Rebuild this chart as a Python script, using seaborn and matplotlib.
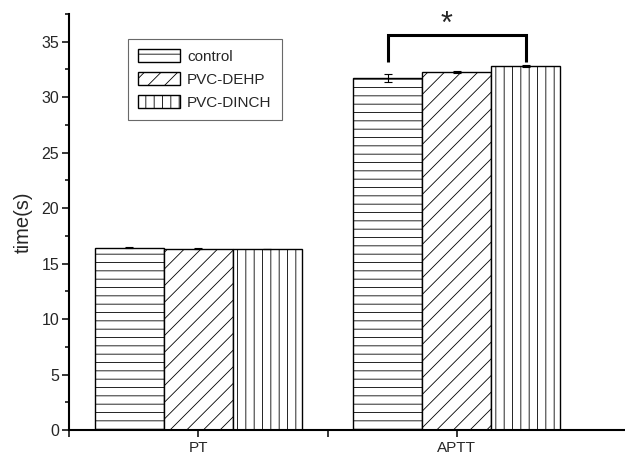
import matplotlib
matplotlib.use("Agg")
import matplotlib.pyplot as plt
import seaborn as sns
import pandas as pd
import numpy as np
from matplotlib.ticker import MultipleLocator
from matplotlib.container import BarContainer

tests = ["PT", "APTT"]
groups = ["control", "PVC-DEHP", "PVC-DINCH"]
pt_means = [16.45, 16.35, 16.33]
aptt_means = [31.70, 32.30, 32.78]
pt_err = [0.08, 0.06, 0.02]
aptt_err = [0.35, 0.08, 0.08]
hatches = ["--", "//", "||"]

sns.set_theme(style="white")
plt.rcParams["font.family"] = ["Liberation Sans", "DejaVu Sans"]
plt.rcParams["hatch.linewidth"] = 0.6
plt.rcParams["hatch.color"] = "#222222"

rows = []
for g, m in zip(groups, pt_means):
    rows.append({"test": "PT", "group": g, "time": m})
for g, m in zip(groups, aptt_means):
    rows.append({"test": "APTT", "group": g, "time": m})
df = pd.DataFrame(rows)

fig = plt.figure(figsize=(6.25, 4.59), dpi=100)
ax = fig.add_axes([0.1104, 0.0632, 0.8896, 0.9063])

sns.barplot(data=df, x="test", y="time", hue="group", order=tests,
            hue_order=groups, palette=["white"] * 3, edgecolor="black",
            linewidth=1.0, errorbar=None, ax=ax, legend=False)

bars = [c for c in ax.containers if isinstance(c, BarContainer)]
errs = {"PT": pt_err, "APTT": aptt_err}
means = {"PT": pt_means, "APTT": aptt_means}
for gi, cont in enumerate(bars):
    for ti, patch in enumerate(cont.patches):
        patch.set_hatch(hatches[gi])
        xc = patch.get_x() + patch.get_width() / 2
        t = tests[ti]
        ax.errorbar(xc, means[t][gi], yerr=errs[t][gi], fmt="none",
                    ecolor="black", elinewidth=0.8, capsize=2.6, capthick=0.8)

handles = [c.patches[0] for c in bars]
leg = ax.legend(handles, groups, loc="upper left",
                bbox_to_anchor=(0.106, 0.94), fontsize=11,
                handlelength=2.75, handleheight=0.9, labelspacing=0.55,
                handletextpad=0.45, borderpad=0.68, borderaxespad=0,
                fancybox=False, frameon=True)
leg.get_frame().set_edgecolor("#444444")
leg.get_frame().set_linewidth(0.8)

# significance bracket
p1 = bars[0].patches[1]
p2 = bars[2].patches[1]
x1 = p1.get_x() + p1.get_width() / 2
x2 = p2.get_x() + p2.get_width() / 2
ax.plot([x1, x1, x2, x2], [33.2, 35.6, 35.6, 33.2], color="black", lw=2.2,
        solid_capstyle="butt", solid_joinstyle="miter")
ax.text((x1 + x2) / 2 - 0.04, 36.5, "*", ha="center", va="center", fontsize=22)

ax.set_xlim(-0.5, 1.65)
ax.set_ylim(0, 37.5)
ax.set_xticks([-0.5, 0, 0.5, 1])
ax.set_xticklabels(["", "PT", "", "APTT"], fontsize=11)
ax.yaxis.set_major_locator(MultipleLocator(5))
ax.yaxis.set_minor_locator(MultipleLocator(2.5))
ax.tick_params(axis="y", which="major", direction="out", length=5, width=1.3,
               labelsize=11.5, left=True, pad=2)
ax.tick_params(axis="y", which="minor", direction="out", length=3, width=1.3, left=True)
ax.tick_params(axis="x", which="major", direction="out", length=5, width=1.3,
               bottom=True, pad=3)
ax.set_xlabel("")
ax.set_ylabel("time(s)", fontsize=14.5, labelpad=6)

for s in ["top", "right"]:
    ax.spines[s].set_visible(False)
for s in ["left", "bottom"]:
    ax.spines[s].set_color("black")
    ax.spines[s].set_linewidth(1.5)

fig.savefig("out.png", dpi=100)
